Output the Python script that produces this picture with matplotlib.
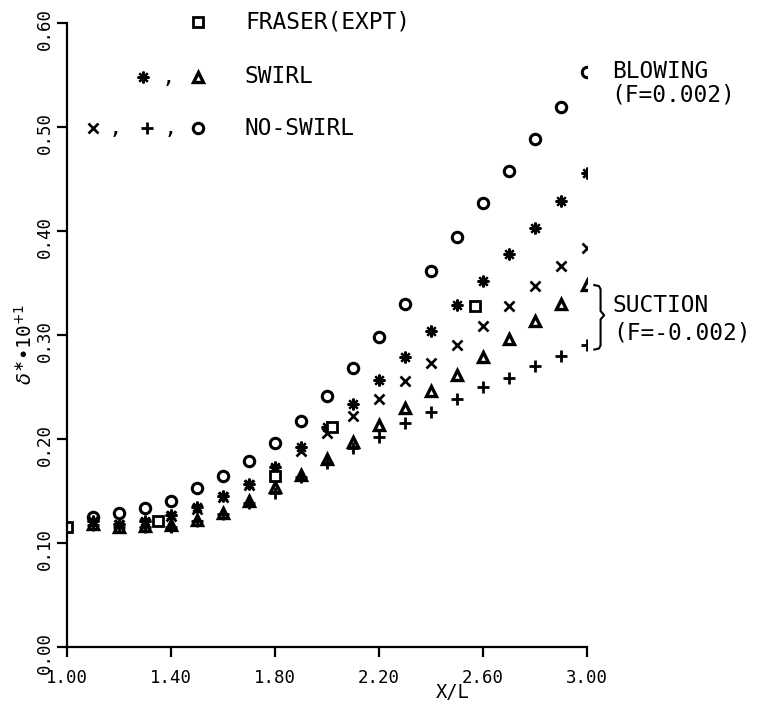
import numpy as np
import matplotlib
matplotlib.use("Agg")
import matplotlib.pyplot as plt
import matplotlib.transforms as mtrans

plt.rcParams["font.family"] = ["DejaVu Sans Mono", "DejaVu Sans"]
plt.rcParams["mathtext.fontset"] = "dejavusans"

# x/L stations of the computed profiles
x_calc = [1.1, 1.2, 1.3, 1.4, 1.5, 1.6, 1.7, 1.8, 1.9, 2.0,
          2.1, 2.2, 2.3, 2.4, 2.5, 2.6, 2.7, 2.8, 2.9, 3.0]
# no-swirl, blowing (circle)
noswirl_blow = [0.125, 0.129, 0.134, 0.140, 0.153, 0.164, 0.179, 0.196, 0.217, 0.241,
                0.268, 0.298, 0.330, 0.362, 0.394, 0.427, 0.458, 0.488, 0.519, 0.553]
# swirl, blowing (asterisk)
swirl_blow = [0.121, 0.118, 0.121, 0.127, 0.135, 0.145, 0.157, 0.173, 0.192, 0.212,
              0.234, 0.257, 0.279, 0.304, 0.329, 0.352, 0.378, 0.403, 0.429, 0.456]
# no-swirl, no transpiration (cross)
noswirl_zero = [0.120, 0.117, 0.119, 0.126, 0.133, 0.144, 0.156, 0.170, 0.188, 0.206,
                0.222, 0.238, 0.256, 0.273, 0.290, 0.309, 0.328, 0.347, 0.366, 0.384]
# swirl, suction (triangle)
swirl_suct = [0.118, 0.115, 0.116, 0.117, 0.122, 0.129, 0.140, 0.154, 0.165, 0.181,
              0.197, 0.213, 0.230, 0.246, 0.262, 0.279, 0.296, 0.313, 0.330, 0.348]
# no-swirl, suction (plus)
noswirl_suct = [0.117, 0.115, 0.115, 0.115, 0.121, 0.128, 0.138, 0.148, 0.163, 0.177,
                0.191, 0.202, 0.215, 0.226, 0.238, 0.250, 0.259, 0.270, 0.280, 0.290]
# Fraser experiment (square)
x_fraser = [1.00, 1.35, 1.80, 2.02, 2.57]
y_fraser = [0.115, 0.121, 0.164, 0.212, 0.328]

x_ticks = [1.0, 1.4, 1.8, 2.2, 2.6, 3.0]
y_ticks = [0.0, 0.1, 0.2, 0.3, 0.4, 0.5, 0.6]

K = "black"
sty = {
    "circ": dict(marker="o", ms=7.5, mfc="white", mec=K, mew=2.2, ls="none"),
    "star": dict(marker=(8, 2, 0), ms=8.5, mfc=K, mec=K, mew=1.6, ls="none"),
    "x": dict(marker="x", ms=7.5, mec=K, mew=1.9, ls="none"),
    "tri": dict(marker="^", ms=6.5, mfc="white", mec=K, mew=2.4, ls="none"),
    "plus": dict(marker="+", ms=8, mec=K, mew=2.0, ls="none"),
    "sq": dict(marker="s", ms=7.5, mfc="white", mec=K, mew=2.0, ls="none"),
}

fig = plt.figure(figsize=(7.61, 7.05), dpi=100)
ax = fig.add_axes([0.0876, 0.0823, 0.6838, 0.8851])

ax.plot(x_calc, noswirl_blow, **sty["circ"])
ax.plot(x_calc, swirl_blow, **sty["star"])
ax.plot(x_calc, noswirl_zero, **sty["x"])
ax.plot(x_calc, swirl_suct, **sty["tri"])
ax.plot(x_calc, noswirl_suct, **sty["plus"])
ax.plot(x_fraser, y_fraser, **sty["sq"])

ax.set_xlim(1.0, 3.0)
ax.set_ylim(0.0, 0.6)
for s in ("top", "right"):
    ax.spines[s].set_visible(False)
for s in ("left", "bottom"):
    ax.spines[s].set_linewidth(1.6)
ax.set_xticks(x_ticks, [f"{v:.2f}" for v in x_ticks])
ax.set_yticks(y_ticks, [f"{v:.2f}" for v in y_ticks])
ax.tick_params(axis="both", direction="out", length=7, width=1.6, labelsize=12.5)
ax.tick_params(axis="x", pad=9)
ax.tick_params(axis="y", pad=2)
for lab in ax.get_yticklabels():
    lab.set_rotation(90)
    lab.set_va("center")
    lab.set_transform(lab.get_transform() + mtrans.ScaledTranslation(0, -0.06, fig.dpi_scale_trans))

ax.set_xlabel("X/L", fontsize=13.5, va="center")
ax.xaxis.set_label_coords(0.7425, -0.0737)
fig.text(0.033, 0.512, r"$\delta^{\ast}$" + "\u2022" + r"10$^{+1}$", rotation=90,
         fontsize=14, ha="center", va="center")

# legend drawn by hand like the plotter original
ta = ax.transAxes
legend_rows = [
    (1.0016, [("sq", 0.2527)], [], "FRASER(EXPT)"),
    (0.9135, [("star", 0.1467), ("tri", 0.2527)], [0.195], "SWIRL"),
    (0.8317, [("x", 0.0506), ("plus", 0.1543), ("circ", 0.2527)], [0.0929, 0.1985], "NO-SWIRL"),
]
for ly, marks, commas, label in legend_rows:
    for key, lx in marks:
        ax.plot([lx], [ly], transform=ta, clip_on=False, **sty[key])
    for cx in commas:
        ax.text(cx, ly, ",", transform=ta, fontsize=16, ha="center", va="center")
    ax.text(0.3427, ly, label, transform=ta, fontsize=16.5, ha="left", va="center")

ax.text(1.048, 0.9215, "BLOWING", transform=ta, fontsize=16.5, ha="left", va="center")
ax.text(1.046, 0.8846, "(F=0.002)", transform=ta, fontsize=16.5, ha="left", va="center")
ax.text(1.048, 0.548, "SUCTION", transform=ta, fontsize=16.5, ha="left", va="center")
ax.text(1.050, 0.503, "(F=-0.002)", transform=ta, fontsize=16.5, ha="left", va="center")

# brace grouping the two suction curves at x/L = 3.0
bt = mtrans.blended_transform_factory(ta, ax.transData)
y_top = swirl_suct[-1]
y_bot = noswirl_suct[-1] - 0.004
y_mid = 0.5 * (y_top + y_bot) + 0.002
d = 0.004
bx = [1.014, 1.023, 1.026, 1.026, 1.033, 1.026, 1.026, 1.023, 1.014]
by = [y_top, y_top - 0.001, y_top - d, y_mid + d, y_mid, y_mid - d, y_bot + d, y_bot + 0.001, y_bot]
ax.plot(bx, by, transform=bt, color=K, lw=1.5, clip_on=False)

fig.savefig("out.png", dpi=100)
